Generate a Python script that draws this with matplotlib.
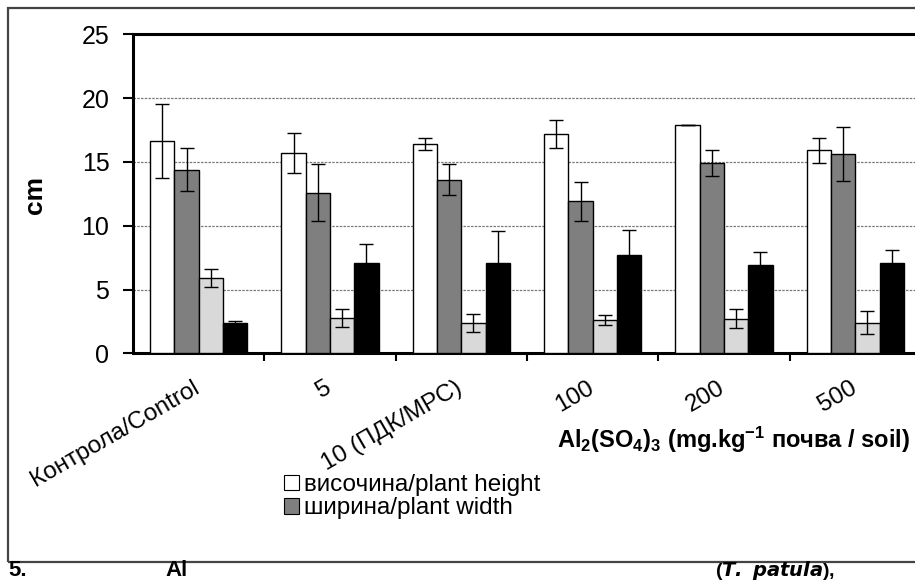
import matplotlib
matplotlib.use("Agg")
import matplotlib.pyplot as plt
import matplotlib.transforms as mtransforms
import numpy as np
from matplotlib.patches import Rectangle, Patch

plt.rcParams['font.family'] = ['Liberation Sans', 'DejaVu Sans']
plt.rcParams['mathtext.fontset'] = 'custom'
plt.rcParams['mathtext.rm'] = 'Liberation Sans:bold'
plt.rcParams['mathtext.bf'] = 'Liberation Sans:bold'
plt.rcParams['mathtext.default'] = 'bf'

categories = ['Контрола/Control', '5', '10 (ПДК/МРС)', '100', '200', '500']
series_names = ['височина/plant height', 'ширина/plant width', 'series 3', 'series 4']

height = [16.6, 15.7, 16.4, 17.2, 17.9, 15.9]
height_err = [2.9, 1.6, 0.5, 1.1, 0.0, 1.0]
width = [14.4, 12.6, 13.6, 11.9, 14.9, 15.6]
width_err = [1.7, 2.2, 1.2, 1.5, 1.0, 2.1]
s3 = [5.9, 2.8, 2.4, 2.6, 2.7, 2.4]
s3_err = [0.7, 0.7, 0.7, 0.4, 0.75, 0.9]
s4 = [2.35, 7.1, 7.05, 7.7, 6.9, 7.1]
s4_err = [0.2, 1.5, 2.55, 1.95, 1.05, 1.0]

values = [height, width, s3, s4]
errors = [height_err, width_err, s3_err, s4_err]
colors = ['white', '#7f7f7f', '#d9d9d9', 'black']

W, H = 915, 583
fig = plt.figure(figsize=(W / 100, H / 100), dpi=100)

# outer chart frame (cropped on the right)
fig.patches.append(Rectangle((8 / W, 1 - 562 / H), 1.0, (562 - 8) / H,
                             transform=fig.transFigure, fill=False,
                             edgecolor='#444444', linewidth=1.6))

ax = fig.add_axes([133 / W, 1 - 353.3 / H, (921 - 133) / W, (353.3 - 34.3) / H])

x = np.arange(len(categories))
bw = 0.185
offsets = [-1.5, -0.5, 0.5, 1.5]
bars = []
for vals, errs, col, off in zip(values, errors, colors, offsets):
    b = ax.bar(x + off * bw, vals, bw, color=col, edgecolor='black', linewidth=1.0, zorder=3)
    bars.append(b)
    ax.errorbar(x + off * bw, vals, yerr=errs, fmt='none', ecolor='black',
                elinewidth=1.0, capsize=4.7, capthick=1.0, zorder=4)

ax.set_xlim(-0.5, len(categories) - 0.5)
ax.set_ylim(0, 25)
ax.set_yticks(np.arange(0, 26, 5))
ax.tick_params(axis='y', labelsize=18, length=7, width=1.5, pad=10, colors='black')
ax.set_xticks(x)
ax.set_xticklabels(categories, rotation=30, ha='right', va='top', rotation_mode='anchor', fontsize=17.5)
ax.tick_params(axis='x', length=0, pad=17)
shift = mtransforms.ScaledTranslation(-6 / 100, 0, fig.dpi_scale_trans)
for lab in ax.get_xticklabels():
    lab.set_transform(lab.get_transform() + shift)
ax.set_xticks(np.arange(0.5, len(categories) - 0.5, 1.0), minor=True)
ax.tick_params(axis='x', which='minor', length=6, width=1.5)

for yv in [5, 10, 15, 20]:
    ax.axhline(yv, color='#7a7a7a', linewidth=0.9, linestyle=(0, (2, 1)), zorder=1)

for s in ['left', 'bottom', 'top']:
    ax.spines[s].set_linewidth(2.2)
    ax.spines[s].set_color('black')
ax.spines['right'].set_visible(False)

fig.text(35 / W, 1 - 195 / H, 'cm', rotation=90, fontsize=19, fontweight='bold',
         ha='center', va='center')
fig.text(910 / W, 1 - 440 / H, r'Al$_2$(SO$_4$)$_3$ (mg.kg$^{-1}$ почва / soil)',
         fontsize=17, fontweight='bold', ha='right', va='center')

handles = [Patch(facecolor=colors[0], edgecolor='black', linewidth=0.8),
           Patch(facecolor=colors[1], edgecolor='black', linewidth=0.8)]
fig.legend(handles, series_names[:2], loc='upper left',
           bbox_to_anchor=(272 / W, 1 - 462 / H), frameon=False, fontsize=17.5,
           handlelength=0.6, handleheight=0.6, handletextpad=0.2,
           labelspacing=0.05, borderpad=0)

cap = dict(fontweight='bold', family=['Liberation Sans Narrow', 'Liberation Sans'],
           va='center')
fig.text(8 / W, 1 - 571 / H, '5.', ha='left', fontsize=16, **cap)
fig.text(165 / W, 1 - 571 / H, 'Al', ha='left', fontsize=16, **cap)
fig.text(715 / W, 1 - 571 / H, r'($\mathbfit{T.\ patula}$),', ha='left', fontsize=14, **cap)

fig.savefig('out.png', dpi=100)
